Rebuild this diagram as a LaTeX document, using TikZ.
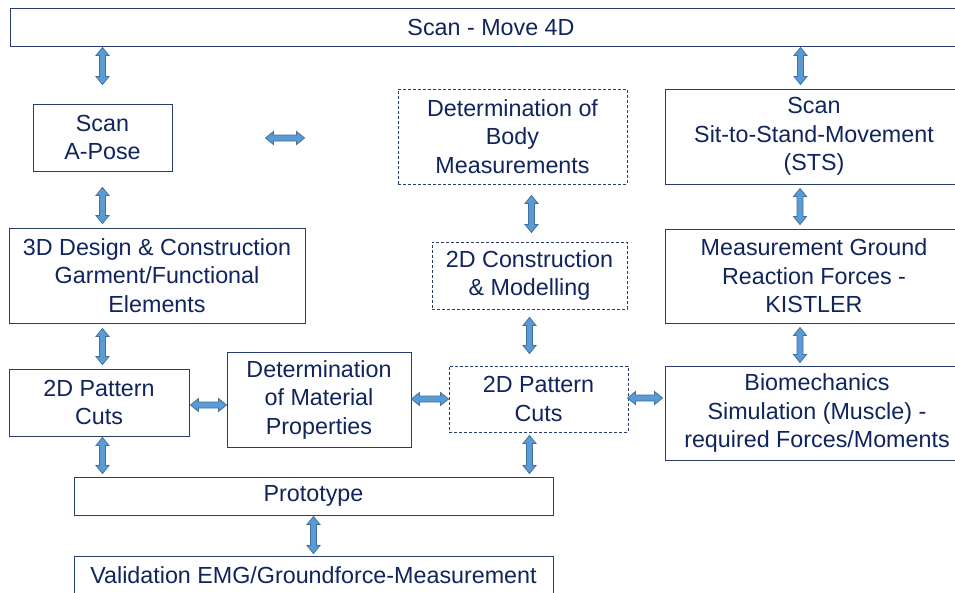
\documentclass[tikz,border=0pt]{standalone}
\usepackage{fontspec}
\setmainfont{Liberation Sans}
\usetikzlibrary{calc}
\definecolor{txt}{RGB}{16,36,94}
\definecolor{bord}{RGB}{40,60,110}
\definecolor{arrfill}{RGB}{91,155,213}
\definecolor{arrline}{RGB}{65,113,156}
\newcommand\varr[2]{\path[fatarr] let \p1=(#1), \p2=(#2) in
  (\x1,\y1) -- (\x1+6.5pt,\y1-8pt) -- (\x1+3pt,\y1-8pt) -- (\x1+3pt,\y2+8pt) -- (\x1+6.5pt,\y2+8pt)
  -- (\x1,\y2) -- (\x1-6.5pt,\y2+8pt) -- (\x1-3pt,\y2+8pt) -- (\x1-3pt,\y1-8pt) -- (\x1-6.5pt,\y1-8pt) -- cycle;}
\newcommand\harr[2]{\path[fatarr] let \p1=(#1), \p2=(#2) in
  (\x1,\y1) -- (\x1+8pt,\y1+6.5pt) -- (\x1+8pt,\y1+3pt) -- (\x2-8pt,\y1+3pt) -- (\x2-8pt,\y1+6.5pt)
  -- (\x2,\y1) -- (\x2-8pt,\y1-6.5pt) -- (\x2-8pt,\y1-3pt) -- (\x1+8pt,\y1-3pt) -- (\x1+8pt,\y1-6.5pt) -- cycle;}
\begin{document}
\begin{tikzpicture}[x=1pt,y=-1pt,
  box/.style={draw=bord, line width=1pt, fill=white, text=txt, align=center, inner sep=0pt,
    font=\fontsize{23.3}{28.5}\selectfont},
  dbox/.style={box, dash pattern=on 3pt off 2pt},
  fatarr/.style={fill=arrfill, draw=arrline, line width=0.8pt, line join=miter}]
\clip (0,0) rectangle (955,592);
\fill[white] (0,0) rectangle (955,592);
% boxes
\node[box, minimum width=962pt, minimum height=38pt] (top) at (491,27) {Scan - Move 4D};
\node[box, minimum width=139pt, minimum height=67pt] (apose) at (102.5,137.5) {Scan\\A-Pose};
\node[dbox, minimum width=229pt, minimum height=95pt] (body) at (512.5,136.5) {Determination of\\Body\\Measurements};
\node[box, minimum width=298pt, minimum height=95pt] (sts) at (814,136.5) {Scan\\Sit-to-Stand-Movement\\(STS)};
\node[box, minimum width=296pt, minimum height=95pt] (design) at (157,275.5) {3D Design \& Construction\\Garment/Functional\\Elements};
\node[dbox, minimum width=195pt, minimum height=67pt] (constr) at (529.5,275.5) {2D Construction\\\& Modelling};
\node[box, minimum width=298pt, minimum height=94pt] (kistler) at (814,276) {Measurement Ground\\Reaction Forces -\\KISTLER};
\node[box, minimum width=180pt, minimum height=67pt] (cuts1) at (99,402.5) {2D Pattern\\Cuts};
\node[box, minimum width=184pt, minimum height=95pt] (material) at (319,399.5) {Determination\\of Material\\Properties};
\node[dbox, minimum width=179pt, minimum height=66pt] (cuts2) at (538.5,399) {2D Pattern\\Cuts};
\node[box, minimum width=304pt, minimum height=94pt] (bio) at (817,413) {Biomechanics\\Simulation (Muscle) -\\required Forces/Moments};
\node[box, minimum width=479pt, minimum height=38pt] (proto) at (313.5,496) {Prototype};
\node[box, minimum width=479pt, minimum height=38pt] (valid) at (313.5,575) {Validation EMG/Groundforce-Measurement};
% vertical arrows
\varr{$(top.south -| apose.center)+(0,1)$}{$(apose.north)+(0,-19)$}
\varr{$(apose.south)+(0,16)$}{$(design.north -| apose.south)+(0,-4)$}
\varr{$(design.south -| apose.south)+(0,5)$}{$(cuts1.north -| apose.south)+(0,-4)$}
\varr{$(cuts1.south -| apose.south)+(0,1)$}{$(proto.north -| apose.south)+(0,-3)$}
\varr{$(body.south -| constr.north)+(2,11)$}{$(constr.north)+(2,-9)$}
\varr{$(constr.south)+(0,8)$}{$(cuts2.north -| constr.south)+(0,-12)$}
\varr{$(cuts2.south -| constr.south)+(0,3)$}{$(proto.north -| constr.south)+(0,-3)$}
\varr{$(proto.south)+(0,1)$}{$(valid.north)+(0,-2)$}
\varr{$(top.south -| sts.north)+(-13.5,1)$}{$(sts.north)+(-13.5,-4)$}
\varr{$(sts.south)+(-14,4)$}{$(kistler.north)+(-14,-4)$}
\varr{$(kistler.south)+(-14,4)$}{$(bio.north -| kistler.south)+(-14,-3)$}
% horizontal arrows
\harr{$(apose.east)+(93,0.5)$}{$(body.west |- apose.east)+(-93,0.5)$}
\harr{$(cuts1.east)+(1,2.5)$}{$(material.west |- cuts1.east)+(0,2.5)$}
\harr{$(material.east)+(0,-0.5)$}{$(cuts2.west |- material.east)+(0,-0.5)$}
\harr{$(cuts2.east)+(-1,-1)$}{$(bio.west |- cuts2.east)+(-2,-1)$}
\end{tikzpicture}
\end{document}
